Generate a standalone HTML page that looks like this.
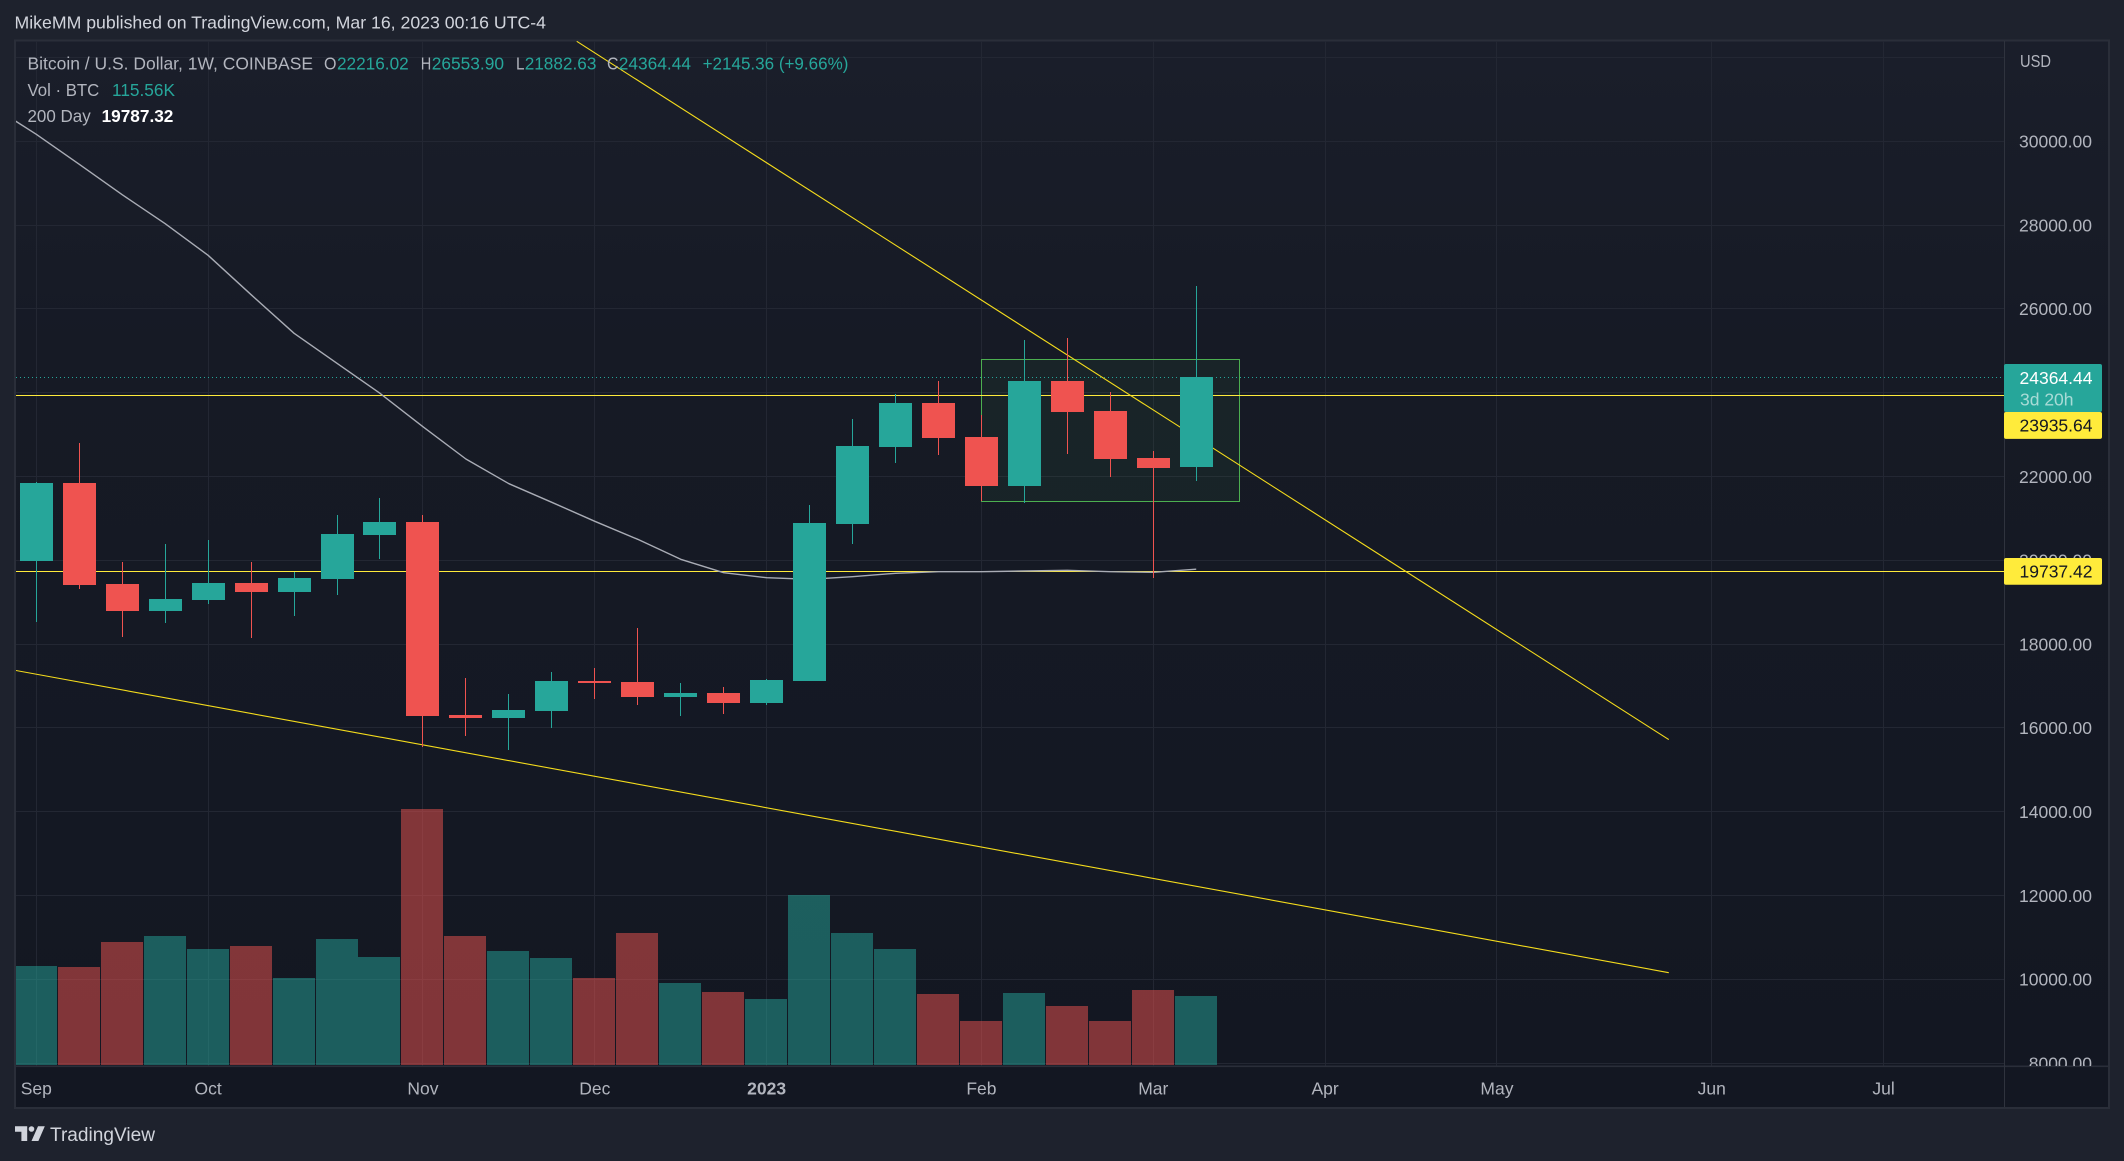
<!DOCTYPE html>
<html lang="en">
<head>
<meta charset="utf-8">
<title>BTC/USD weekly chart</title>
<style>
html,body{margin:0;padding:0;background:#1e222d;width:2124px;height:1161px;overflow:hidden}
svg{display:block}
text{font-family:"Liberation Sans",sans-serif;font-size:17.5px}
</style>
</head>
<body>
<svg id="root" xmlns="http://www.w3.org/2000/svg" width="2124" height="1161" viewBox="0 0 2124 1161">
  <defs>
    <linearGradient id="paneGrad" x1="0" y1="0" x2="0" y2="1">
      <stop offset="0" stop-color="#1a1e2a"/>
      <stop offset="0.3" stop-color="#161a25"/>
      <stop offset="1" stop-color="#131722"/>
    </linearGradient>
    <clipPath id="plotClip"><rect x="16" y="41" width="1988" height="1025"/></clipPath>
    <clipPath id="axisClip"><rect x="2005" y="41" width="103" height="1025"/></clipPath>
  </defs>

  <rect x="0" y="0" width="2124" height="1161" fill="#1e222d"/>
  <text x="14.5" y="28.7" fill="#d1d4dc" textLength="531.5" lengthAdjust="spacingAndGlyphs">MikeMM published on TradingView.com, Mar 16, 2023 00:16 UTC-4</text>

  <rect x="15" y="40.5" width="2094" height="1067.5" fill="#131722" stroke="#2a2e39" stroke-width="2"/>
  <rect x="16" y="41.5" width="1988" height="1024.5" fill="url(#paneGrad)"/>
  <rect x="2005" y="41.5" width="103" height="1024.5" fill="url(#paneGrad)"/>

  <g id="grid" clip-path="url(#plotClip)"></g>
  <g id="volume" clip-path="url(#plotClip)"></g>
  <g id="drawings" clip-path="url(#plotClip)"></g>
  <g id="candles" clip-path="url(#plotClip)"></g>

  <rect x="16" y="1065.5" width="2092" height="1.6" fill="#2a2e39"/>
  <rect x="2004" y="41" width="1" height="1066" fill="#2f333e"/>

  <g id="priceAxis" clip-path="url(#axisClip)">
    <text x="2020" y="67" fill="#b2b5be" textLength="31" lengthAdjust="spacingAndGlyphs">USD</text>
  </g>
  <g id="timeAxis"></g>
  <g id="priceTags"></g>

  <g>
    <text x="27.5" y="69.5" fill="#b2b5be" textLength="285.5" lengthAdjust="spacingAndGlyphs">Bitcoin / U.S. Dollar, 1W, COINBASE</text>
    <text x="324" y="69.5" fill="#b2b5be" textLength="12.5" lengthAdjust="spacingAndGlyphs">O</text>
    <text x="337" y="69.5" fill="#26a69a" textLength="71.7" lengthAdjust="spacingAndGlyphs">22216.02</text>
    <text x="420.8" y="69.5" fill="#b2b5be" textLength="10.5" lengthAdjust="spacingAndGlyphs">H</text>
    <text x="431.7" y="69.5" fill="#26a69a" textLength="72.3" lengthAdjust="spacingAndGlyphs">26553.90</text>
    <text x="516" y="69.5" fill="#b2b5be" textLength="8.5" lengthAdjust="spacingAndGlyphs">L</text>
    <text x="524.7" y="69.5" fill="#26a69a" textLength="71.7" lengthAdjust="spacingAndGlyphs">21882.63</text>
    <text x="607" y="69.5" fill="#b2b5be" textLength="11.5" lengthAdjust="spacingAndGlyphs">C</text>
    <text x="618.8" y="69.5" fill="#26a69a" textLength="72.2" lengthAdjust="spacingAndGlyphs">24364.44</text>
    <text x="702.6" y="69.5" fill="#26a69a" textLength="145.8" lengthAdjust="spacingAndGlyphs">+2145.36 (+9.66%)</text>
    <text x="27.5" y="96" fill="#b2b5be" textLength="71.8" lengthAdjust="spacingAndGlyphs">Vol · BTC</text>
    <text x="112" y="96" fill="#26a69a" textLength="63" lengthAdjust="spacingAndGlyphs">115.56K</text>
    <text x="27.5" y="122" fill="#b2b5be" textLength="63.2" lengthAdjust="spacingAndGlyphs">200 Day</text>
    <text x="101.6" y="122" fill="#ffffff" font-weight="bold" textLength="71.8" lengthAdjust="spacingAndGlyphs" style="font-weight:bold">19787.32</text>
  </g>

  <g>
    <path fill="#d1d4dc" d="M15 1126.3h12.2v14.7h-5.8v-9.3H15z M38 1126.3h6.8l-6.4 14.7h-6.9z"/>
    <circle cx="31.5" cy="1129" r="2.8" fill="#d1d4dc"/>
    <text x="50" y="1141" fill="#d1d4dc" style="font-size:19px" textLength="105" lengthAdjust="spacingAndGlyphs">TradingView</text>
  </g>

  <script>
  // ---- chart data ----
  const weekStarts = ['Aug 29','Sep 5','Sep 12','Sep 19','Sep 26','Oct 3','Oct 10','Oct 17','Oct 24','Oct 31','Nov 7','Nov 14','Nov 21','Nov 28','Dec 5','Dec 12','Dec 19','Dec 26','Jan 2','Jan 9','Jan 16','Jan 23','Jan 30','Feb 6','Feb 13','Feb 20','Feb 27','Mar 6'];
  const opens  = [19983,21845,19434,18790,19053,19458,19243,19554,20604,20914,16308,16237,16403,17119,17096,16738,16833,16594,17119,20867,22705,23755,22943,21774,24280,23564,22442,22216.02];
  const highs  = [21869,22799,19959,20389,20485,19959,19721,21081,21487,21081,17191,16809,17334,17430,18384,17072,16976,17167,21320,23373,23969,24280,23468,25258,25306,24017,22609,26553.90];
  const lows   = [18528,19315,18170,18504,18957,18146,18671,19172,20031,15536,15807,15473,15998,16690,16547,16284,16332,16547,17119,20390,22323,22514,21416,21368,22537,21989,19578,21882.63];
  const closes = [21845,19411,18790,19076,19458,19243,19578,20628,20914,16284,16237,16427,17119,17072,16738,16833,16594,17143,20891,22728,23755,22919,21774,24280,23540,22418,22203,24364.44];
  const volumes = [165.8,164,206,216,194,199,146,211,181,429,216,191,179,146,221,137,122,110.5,285,221,194,119,74,120.5,99,74,125.6,115.56];
  const maBefore = [30821];
  const maValues = [30167,29451,28725,28033,27279,26339,25418,24702,23986,23189,22418,21828,21384,20931,20501,20024,19704,19585,19547,19609,19690,19728,19728,19745,19761,19728,19714,19787.32];
  const priceTicks = [32000,30000,28000,26000,24000,22000,20000,18000,16000,14000,12000,10000,8000];
  const priceTickLabels = ['', '30000.00','28000.00','26000.00','24000.00','22000.00','20000.00','18000.00','16000.00','14000.00','12000.00','10000.00','8000.00'];
  const timeTickBars = [0,4,9,13,17,22,26,30,34,39,43];
  const timeTickLabels = ['Sep','Oct','Nov','Dec','2023','Feb','Mar','Apr','May','Jun','Jul'];
  const horizontalLevels = [23935.64,19737.42];
  const lastPrice = 24364.44;
  const lastPriceCountdown = '3d 20h';
  const upperTrendBars = [12.58,38];
  const upperTrendPrices = [32386,15721];
  const lowerTrendBars = [-0.5,38];
  const lowerTrendPrices = [17375,10158];
  const boxBars = [22,28];
  const boxPrices = [24797,21408];

  // ---- axis functions ----
  const NS = 'http://www.w3.org/2000/svg';
  function xOf(bar){ return 36.3 + 42.96 * bar; }
  function yOf(price){ return 476.5 + (22000 - price) * 0.0419; }
  function yVol(v){ return 1065 - v * 0.597; }
  function mk(tag, attrs, parent){
    const el = document.createElementNS(NS, tag);
    for (const k in attrs) el.setAttribute(k, attrs[k]);
    parent.appendChild(el);
    return el;
  }
  const grid = document.getElementById('grid');
  const volG = document.getElementById('volume');
  const draw = document.getElementById('drawings');
  const candleG = document.getElementById('candles');
  const priceAxis = document.getElementById('priceAxis');
  const timeAxis = document.getElementById('timeAxis');
  const tags = document.getElementById('priceTags');

  // grid and axis labels
  priceTicks.forEach(function(p, i){
    const y = Math.floor(yOf(p)) + 0.5;
    const line = mk('line', {x1:16, x2:2004, y1:y, y2:y, stroke:'#232733', 'stroke-width':1, 'shape-rendering':'crispEdges'}, grid);
    
    
    if (priceTickLabels[i]) {
      const t = mk('text', {x:2092, y:yOf(p) + 6.3, fill:'#b2b5be', 'text-anchor':'end'}, priceAxis);
      
      
      t.textContent = priceTickLabels[i];
    }
  });
  timeTickBars.forEach(function(b, i){
    const x = Math.floor(xOf(b)) + 0.5;
    const line = mk('line', {x1:x, x2:x, y1:41, y2:1066, stroke:'#232733', 'stroke-width':1, 'shape-rendering':'crispEdges'}, grid);
    
    
    const t = mk('text', {x:xOf(b), y:1094.3, fill:'#b2b5be', 'text-anchor':'middle'}, timeAxis);
    
    
    if (timeTickLabels[i] === '2023') t.style.fontWeight = 'bold';
    t.textContent = timeTickLabels[i];
  });

  // volume
  volumes.forEach(function(v, i){
    const up = closes[i] >= opens[i];
    const top = Math.round(yVol(v));
    const r = mk('rect', {x:Math.floor(xOf(i)) - 21, y:top, width:42, height:1065 - top, fill: up ? 'rgba(38,166,154,0.5)' : 'rgba(239,83,80,0.5)'}, volG);
    
    
  });

  // drawings
  const bx0 = Math.round(xOf(boxBars[0])) + 0.5, bx1 = Math.round(xOf(boxBars[1])) + 0.5;
  const by0 = Math.round(yOf(boxPrices[0])) + 0.5, by1 = Math.round(yOf(boxPrices[1])) + 0.5;
  const box = mk('rect', {x:bx0, y:by0, width:bx1 - bx0, height:by1 - by0, fill:'rgba(76,175,80,0.07)', stroke:'#4caf50', 'stroke-width':1, 'shape-rendering':'crispEdges'}, draw);
  
  

  const lastLine = mk('line', {x1:16, x2:2004, y1:Math.floor(yOf(lastPrice)) + 0.5, y2:Math.floor(yOf(lastPrice)) + 0.5, stroke:'#26a69a', 'stroke-width':1, 'stroke-dasharray':'1 3', 'shape-rendering':'crispEdges'}, draw);
  
  

  horizontalLevels.forEach(function(p){
    const y = Math.floor(yOf(p)) + 0.5;
    const l = mk('line', {x1:16, x2:2004, y1:y, y2:y, stroke:'#ffeb3b', 'stroke-width':1, 'shape-rendering':'crispEdges'}, draw);
    
    
  });

  const upper = mk('line', {x1:xOf(upperTrendBars[0]), y1:yOf(upperTrendPrices[0]), x2:xOf(upperTrendBars[1]), y2:yOf(upperTrendPrices[1]), stroke:'#f5dc1c', 'stroke-width':1.1}, draw);
  
  
  const lower = mk('line', {x1:xOf(lowerTrendBars[0]), y1:yOf(lowerTrendPrices[0]), x2:xOf(lowerTrendBars[1]), y2:yOf(lowerTrendPrices[1]), stroke:'#f5dc1c', 'stroke-width':1.1}, draw);
  
  

  let maPts = xOf(-1).toFixed(1) + ',' + yOf(maBefore[0]).toFixed(1);
  maValues.forEach(function(v, i){ maPts += ' ' + xOf(i).toFixed(1) + ',' + yOf(v).toFixed(1); });
  const ma = mk('polyline', {points:maPts, fill:'none', stroke:'#a9acb5', 'stroke-width':1.4, 'stroke-linejoin':'round'}, draw);
  
  

  // candles
  opens.forEach(function(o, i){
    const c = closes[i], col = c >= o ? '#26a69a' : '#ef5350';
    const cx = Math.floor(xOf(i));
    const wTop = Math.round(yOf(highs[i])), wBot = Math.round(yOf(lows[i]));
    const wick = mk('rect', {x:cx, y:wTop, width:1, height:Math.max(1, wBot - wTop), fill:col}, candleG);
    
    
    const bTop = Math.round(yOf(Math.max(o, c))), bBot = Math.round(yOf(Math.min(o, c)));
    const body = mk('rect', {x:cx - 16, y:bTop, width:33, height:Math.max(1, bBot - bTop), fill:col}, candleG);
    
    
  });

  // price tags: a level tag that would collide with the last-price tag is pushed below it
  const yLast = yOf(lastPrice);
  const tealTop = yLast - 13.4;
  const tealBottom = tealTop + 48;
  const tealTag = mk('rect', {x:2004, y:tealTop, width:98, height:48, rx:2, fill:'#26a69a'}, tags);
  
  
  const tealTxt = mk('text', {x:2092.5, y:yLast + 6.6, fill:'#ffffff', 'text-anchor':'end'}, tags);
  
  
  tealTxt.textContent = lastPrice.toFixed(2);
  const cdTxt = mk('text', {x:2020, y:yLast + 28, fill:'rgba(255,255,255,0.6)'}, tags);
  
  
  cdTxt.textContent = lastPriceCountdown;

  horizontalLevels.forEach(function(p){
    let y = yOf(p);
    if (y + 13.4 > tealTop && y - 13.4 < tealBottom) y = tealBottom + 13.3;
    const tag = mk('rect', {x:2004, y:y - 13.3, width:98, height:26.8, rx:2, fill:'#ffeb3b'}, tags);
    
    
    const tx = mk('text', {x:2092.5, y:y + 6.2, fill:'#131722', 'text-anchor':'end'}, tags);
    
    
    tx.textContent = p.toFixed(2);
  });
  </script>
</svg>
</body>
</html>
